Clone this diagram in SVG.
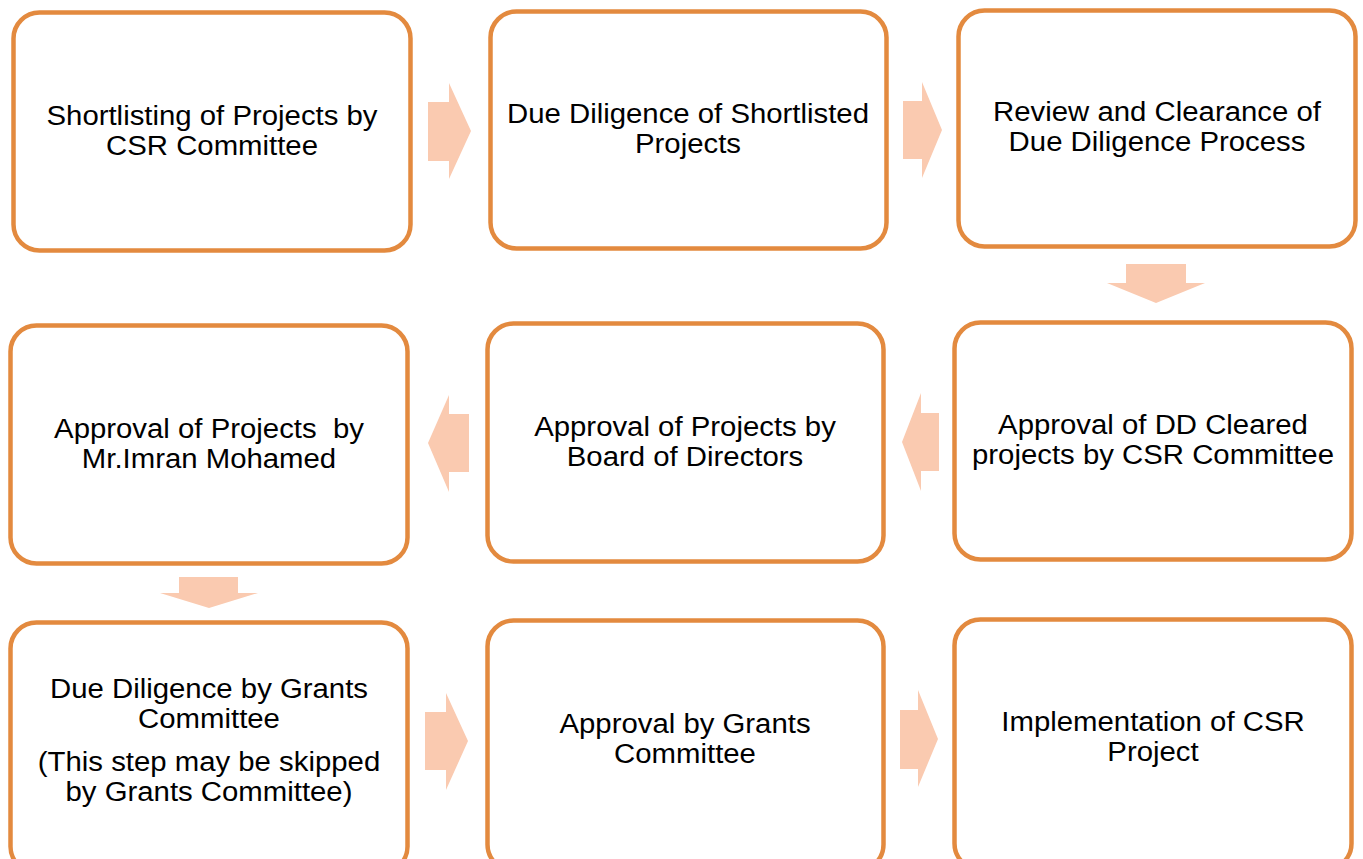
<svg xmlns="http://www.w3.org/2000/svg" width="1363" height="859" viewBox="0 0 1363 859">
<style>
.box{fill:#fff;stroke:#E38A3F;stroke-width:4.5}
.t{font-family:"Liberation Sans",Arial,sans-serif;font-size:27px;fill:#000;text-anchor:middle}
.arr{fill:#FACAB0}
</style>
<rect width="1363" height="859" fill="#fff"/>
<g id="connectors">
<polygon class="arr" points="428,102 449,102 449,83 471,131 449,179 449,161 428,161"/>
<polygon class="arr" points="903,101 922,101 922,82 942,130 922,178 922,159 903,159"/>
<polygon class="arr" points="1126,264 1186,264 1186,283 1205,283 1156,303 1107,283 1126,283"/>
<polygon class="arr" points="939,413 921,413 921,393 902,442 921,491 921,471 939,471"/>
<polygon class="arr" points="469,414 449,414 449,395 428,443 449,492 449,472 469,472"/>
<polygon class="arr" points="179,577 238,577 238,593 258,593 209,608 160,593 179,593"/>
<polygon class="arr" points="425,712 446,712 446,693 468,741 446,790 446,770 425,770"/>
<polygon class="arr" points="900,710 918,710 918,690 938,739 918,787 918,769 900,769"/>
</g>
<g id="n1"><rect class="box" x="13.5" y="12.5" width="397" height="238" rx="26"/>
<g transform="translate(212 0) scale(1.087 1)"><text class="t" x="0" y="125">Shortlisting of Projects by</text><text class="t" x="0" y="155">CSR Committee</text></g></g>
<g id="n2"><rect class="box" x="490.5" y="11.5" width="396" height="237" rx="26"/>
<g transform="translate(688 0) scale(1.087 1)"><text class="t" x="0" y="123">Due Diligence of Shortlisted</text><text class="t" x="0" y="153">Projects</text></g></g>
<g id="n3"><rect class="box" x="958.5" y="10.5" width="397" height="236" rx="26"/>
<g transform="translate(1157 0) scale(1.087 1)"><text class="t" x="0" y="121">Review and Clearance of</text><text class="t" x="0" y="151">Due Diligence Process</text></g></g>
<g id="n4"><rect class="box" x="10.5" y="325.5" width="397" height="238" rx="26"/>
<g transform="translate(209 0) scale(1.087 1)"><text class="t" x="0" y="438" xml:space="preserve">Approval of Projects  by</text><text class="t" x="0" y="468">Mr.Imran Mohamed</text></g></g>
<g id="n5"><rect class="box" x="487.5" y="323.5" width="396" height="238" rx="26"/>
<g transform="translate(685 0) scale(1.087 1)"><text class="t" x="0" y="436">Approval of Projects by</text><text class="t" x="0" y="466">Board of Directors</text></g></g>
<g id="n6"><rect class="box" x="954.5" y="322.5" width="397" height="237" rx="26"/>
<g transform="translate(1153 0) scale(1.087 1)"><text class="t" x="0" y="434">Approval of DD Cleared</text><text class="t" x="0" y="464">projects by CSR Committee</text></g></g>
<g id="n7"><rect class="box" x="10.5" y="622.5" width="397" height="250" rx="26"/>
<g transform="translate(209 0) scale(1.087 1)"><text class="t" x="0" y="698">Due Diligence by Grants</text><text class="t" x="0" y="728">Committee</text>
<text class="t" x="0" y="771">(This step may be skipped</text><text class="t" x="0" y="801">by Grants Committee)</text></g></g>
<g id="n8"><rect class="box" x="487.5" y="620.5" width="396" height="250" rx="26"/>
<g transform="translate(685 0) scale(1.087 1)"><text class="t" x="0" y="733">Approval by Grants</text><text class="t" x="0" y="763">Committee</text></g></g>
<g id="n9"><rect class="box" x="954.5" y="619.5" width="397" height="250" rx="26"/>
<g transform="translate(1153 0) scale(1.087 1)"><text class="t" x="0" y="731">Implementation of CSR</text><text class="t" x="0" y="761">Project</text></g></g>
</svg>
